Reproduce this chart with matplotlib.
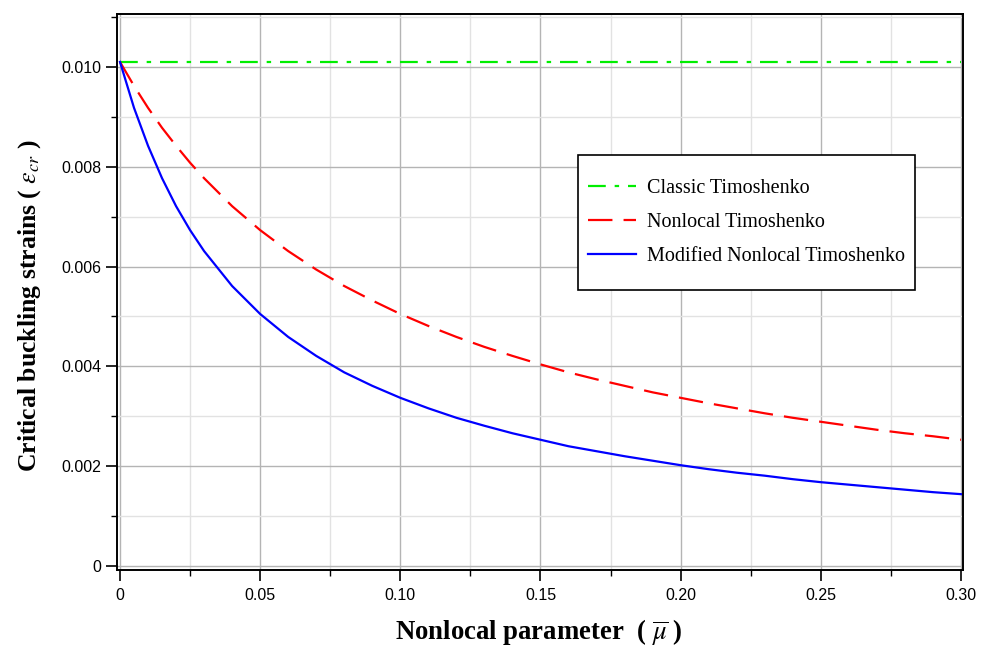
import matplotlib
matplotlib.use("Agg")
import matplotlib.pyplot as plt
from matplotlib.ticker import MultipleLocator, FixedLocator
from matplotlib.patches import Rectangle

# Data
mu = [0.0, 0.005, 0.01, 0.015, 0.02, 0.025, 0.03, 0.04, 0.05, 0.06, 0.07, 0.08, 0.09,
      0.10, 0.11, 0.12, 0.13, 0.14, 0.15, 0.16, 0.17, 0.18, 0.19, 0.20, 0.21, 0.22,
      0.23, 0.24, 0.25, 0.26, 0.27, 0.28, 0.29, 0.30]
classic = [0.0101] * len(mu)
nonlocal_t = [0.0101, 0.00962, 0.00918, 0.00878, 0.00842, 0.00808, 0.00777, 0.00721,
              0.00673, 0.00631, 0.00594, 0.00561, 0.00532, 0.00505, 0.00481, 0.00459,
              0.00439, 0.00421, 0.00404, 0.00388, 0.00374, 0.00361, 0.00348, 0.00337,
              0.00326, 0.00316, 0.00306, 0.00297, 0.00289, 0.00281, 0.00273, 0.00266,
              0.00260, 0.00253]
modified = [0.0101, 0.00918, 0.00842, 0.00777, 0.00721, 0.00673, 0.00631, 0.00561,
            0.00505, 0.00459, 0.00421, 0.00388, 0.00361, 0.00337, 0.00316, 0.00297,
            0.00281, 0.00266, 0.00253, 0.00240, 0.00230, 0.00220, 0.00211, 0.00202,
            0.00194, 0.00187, 0.00181, 0.00174, 0.00168, 0.00163, 0.00158, 0.00153,
            0.00148, 0.00144]

xticks = [0, 0.05, 0.10, 0.15, 0.20, 0.25, 0.30]
xtick_labels = ["0", "0.05", "0.10", "0.15", "0.20", "0.25", "0.30"]
yticks = [0, 0.002, 0.004, 0.006, 0.008, 0.010]
ytick_labels = ["0", "0.002", "0.004", "0.006", "0.008", "0.010"]
series_labels = ["Classic Timoshenko", "Nonlocal Timoshenko", "Modified Nonlocal Timoshenko"]
xlabel = r'Nonlocal parameter  ( $\overline{\mu}$ )'
ylabel = r'Critical buckling strains ( $\varepsilon_{cr}$ )'

plt.rcParams['mathtext.fontset'] = 'stix'

W, H = 989, 649
fig = plt.figure(figsize=(W / 100, H / 100), dpi=100)
ax = fig.add_axes([0.1183, 0.1217, 0.8554, 0.8567])

ax.plot(mu, classic, color='#00ee00', lw=1.6, linestyle=(0, (8, 4, 2, 4)), label=series_labels[0])
ax.plot(mu, nonlocal_t, color='#ff0000', lw=1.6, linestyle=(0, (11, 5)), label=series_labels[1])
ax.plot(mu, modified, color='#0000ff', lw=1.6, linestyle='-', label=series_labels[2])

ax.set_xlim(-0.00107, 0.30071)
ax.set_ylim(-0.00008, 0.01106)

ax.xaxis.set_major_locator(FixedLocator(xticks))
ax.set_xticklabels(xtick_labels)
ax.yaxis.set_major_locator(FixedLocator(yticks))
ax.set_yticklabels(ytick_labels)
ax.xaxis.set_minor_locator(MultipleLocator(0.025))
ax.yaxis.set_minor_locator(MultipleLocator(0.001))

ax.grid(which='major', color='#b4b4b4', lw=1.0)
ax.grid(which='minor', color='#e2e2e2', lw=1.0)
ax.set_axisbelow(True)

ax.tick_params(which='major', direction='out', length=8, width=1.2, labelsize=11.5,
               top=False, right=False)
ax.tick_params(axis='x', which='major', pad=5)
ax.tick_params(which='minor', direction='out', length=4, width=1.0, top=False, right=False)
for lab in ax.get_xticklabels() + ax.get_yticklabels():
    lab.set_family('Liberation Sans')
for sp in ax.spines.values():
    sp.set_linewidth(1.4)

fig.text(539 / W, 1 - 633 / H, xlabel, family='Liberation Serif', fontweight='bold',
         fontsize=19.3, ha='center', va='center')
fig.text(30 / W, 1 - 306 / H, ylabel, family='Liberation Serif', fontweight='bold',
         fontsize=18.5, ha='center', va='center', rotation=90)

# legend box (frame drawn separately)
bx0, bx1, by0, by1 = 578, 915, 155, 290
ax_l, ax_r, ax_t, ax_b = 117, 963, 14, 570
fx0 = (bx0 - ax_l) / (ax_r - ax_l)
fx1 = (bx1 - ax_l) / (ax_r - ax_l)
fy0 = (ax_b - by1) / (ax_b - ax_t)
fy1 = (ax_b - by0) / (ax_b - ax_t)
ax.add_patch(Rectangle((fx0, fy0), fx1 - fx0, fy1 - fy0, transform=ax.transAxes,
                       facecolor='white', edgecolor='black', lw=1.2, zorder=4))
leg = ax.legend(loc='center', bbox_to_anchor=((fx0 + fx1) / 2, (fy0 + fy1) / 2),
                frameon=False, prop={'family': 'Liberation Serif', 'size': 14.5},
                labelspacing=0.74, handlelength=2.35, handletextpad=0.55,
                borderpad=0, borderaxespad=0)
leg.set_zorder(5)

fig.savefig('out.png', dpi=100)
